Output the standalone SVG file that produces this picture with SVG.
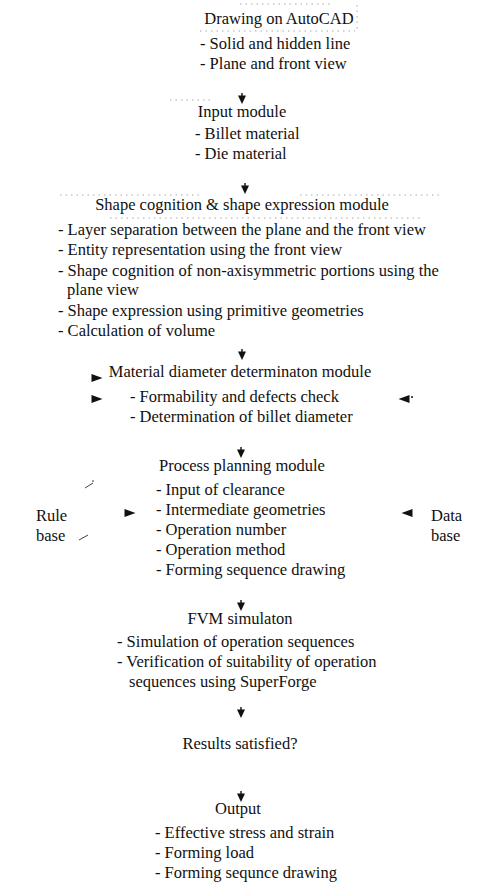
<svg xmlns="http://www.w3.org/2000/svg" width="478" height="889" viewBox="0 0 478 889">
<style>
text{font-family:"Liberation Serif","Times New Roman",serif;font-size:16.5px;fill:#111}
.c{text-anchor:middle}
.faint{stroke:#aaa;stroke-width:1;fill:none;stroke-dasharray:1.5 4}
.sl{stroke:#444;stroke-width:1;fill:none}
</style>
<defs>
<g id="down"><rect x="-0.7" y="-6" width="1.4" height="3" fill="#111"/><polygon points="-4,-3.5 4,-3.5 0,5" fill="#111"/></g>
<polygon id="right" points="-5.5,-4 5.5,0 -5.5,4" fill="#111"/>
<polygon id="left" points="5.5,-4 -5.5,0 5.5,4" fill="#111"/>
</defs>
<rect width="478" height="889" fill="#fff"/>

<g id="connectors">
<path class="faint" d="M240,4 H332 M200,31 H355 M357,5 V29"/>
<path class="faint" d="M170,100 H210 M60,195 H200 M300,195 H440 M110,218 H420"/>
<use href="#down" x="242" y="99"/>
<use href="#down" x="245" y="189"/>
<use href="#down" x="242" y="355"/>
<use href="#down" x="241" y="453"/>
<use href="#down" x="241" y="606"/>
<use href="#down" x="241" y="713"/>
<use href="#down" x="241" y="797"/>
<use href="#right" x="97" y="378"/>
<use href="#right" x="97" y="399"/>
<use href="#left" x="404" y="399"/>
<circle cx="412" cy="397" r="1" fill="#111"/>
<use href="#right" x="130" y="513"/>
<use href="#left" x="407" y="513"/>
<path class="sl" d="M85,488 L93,483 M93,480 V482 M79,540 L88,535"/>
</g>

<g id="n-autocad">
<text class="c" x="279" y="24">Drawing on AutoCAD</text>
<text x="200" y="49">- Solid and hidden line</text>
<text x="200" y="69">- Plane and front view</text>
</g>

<g id="n-input">
<text class="c" x="242" y="117">Input module</text>
<text x="195" y="139">- Billet material</text>
<text x="195" y="159">- Die material</text>
</g>

<g id="n-shape">
<text class="c" x="242" y="210">Shape cognition &amp; shape expression module</text>
<text x="58" y="235">- Layer separation between the plane and the front view</text>
<text x="58" y="255">- Entity representation using the front view</text>
<text x="58" y="276">- Shape cognition of non-axisymmetric portions using the</text>
<text x="67" y="295">plane view</text>
<text x="58" y="316">- Shape expression using primitive geometries</text>
<text x="58" y="336">- Calculation of volume</text>
</g>

<g id="n-material">
<text class="c" x="240" y="377">Material diameter determinaton module</text>
<text x="130" y="402">- Formability and defects check</text>
<text x="130" y="422">- Determination of billet diameter</text>
</g>

<g id="n-process">
<text class="c" x="242" y="471">Process planning module</text>
<text x="156" y="495">- Input of clearance</text>
<text x="156" y="515">- Intermediate geometries</text>
<text x="156" y="535">- Operation number</text>
<text x="156" y="555">- Operation method</text>
<text x="156" y="575">- Forming sequence drawing</text>
</g>

<g id="n-rule">
<text x="36" y="521">Rule</text>
<text x="36" y="541">base</text>
</g>

<g id="n-data">
<text x="431" y="521">Data</text>
<text x="431" y="541">base</text>
</g>

<g id="n-fvm">
<text class="c" x="240" y="624">FVM simulaton</text>
<text x="117" y="647">- Simulation of operation sequences</text>
<text x="117" y="667">- Verification of suitability of operation</text>
<text x="129" y="687">sequences using SuperForge</text>
</g>

<g id="n-results">
<text class="c" x="240" y="749">Results satisfied?</text>
</g>

<g id="n-output">
<text class="c" x="238" y="814">Output</text>
<text x="155" y="838">- Effective stress and strain</text>
<text x="155" y="858">- Forming load</text>
<text x="155" y="878">- Forming sequnce drawing</text>
</g>
</svg>
